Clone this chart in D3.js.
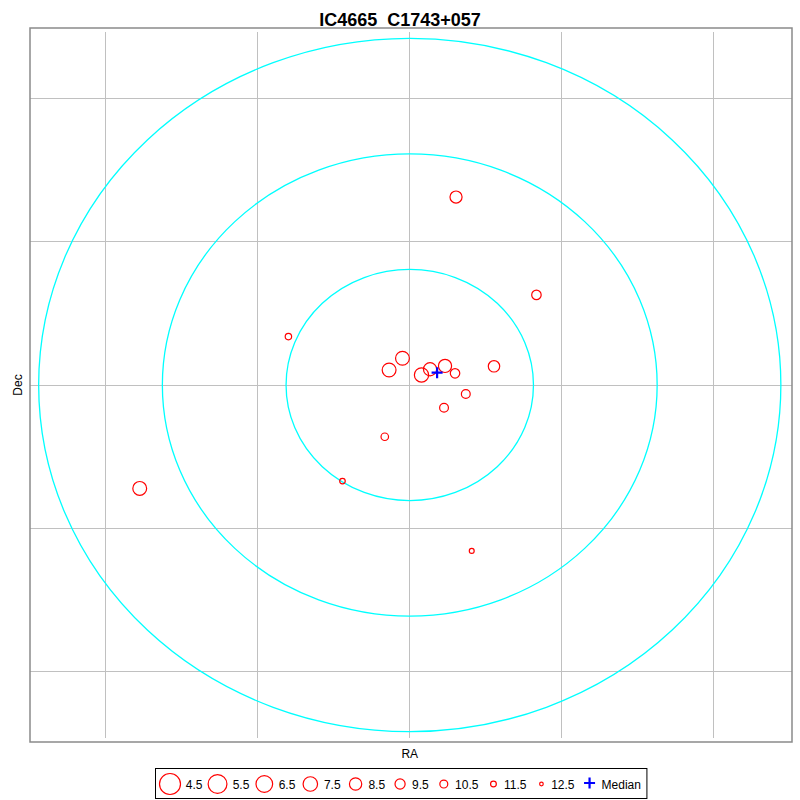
<!DOCTYPE html>
<html>
<head>
<meta charset="utf-8">
<script src="https://cdn.jsdelivr.net/npm/d3@7"></script>
<style>
  body { margin: 0; background: #fff; }
  svg { display: block; font-family: "Liberation Sans", Arial, sans-serif; }
</style>
</head>
<body>
<div id="chart"></div>
<script>
// Cluster members: offsets from centre (degree-ish units) and magnitude
const starX = [0.374, 1.024, -0.981, -0.059, -0.167, 0.095, 0.164, 0.285, 0.366, 0.681, 0.453, 0.277, -0.202, -2.183, -0.544, 0.501];
const starY = [1.627, 0.780, 0.419, 0.231, 0.130, 0.087, 0.136, 0.165, 0.101, 0.162, -0.078, -0.197, -0.448, -0.895, -0.832, -1.436];
const starMag = [8.6, 9.8, 11.2, 7.8, 7.8, 7.6, 8.1, 8.1, 9.8, 8.9, 10.1, 10.1, 10.7, 7.8, 11.6, 11.9];

// Median position
const medianX = 0.221;
const medianY = 0.107;

// Reference rings and grid positions
const rings = [1, 2, 3];
const gridX = [-2.458, -1.229, 0, 1.229, 2.458];
const gridY = [-2.478, -1.239, 0, 1.239, 2.478];

// Legend magnitudes
const legendMags = [4.5, 5.5, 6.5, 7.5, 8.5, 9.5, 10.5, 11.5, 12.5];

const title = "IC4665  C1743+057";

// Dimensions
const width = 800;
const height = 800;
const plot = { left: 30, right: 792, top: 28, bottom: 742 };

const svg = d3
  .select("#chart")
  .append("svg")
  .attr("width", width)
  .attr("height", height);

// Scales
const x = d3.scaleLinear().domain([-3.07, 3.09]).range([plot.left, plot.right]);
const y = d3.scaleLinear().domain([-3.09, 3.09]).range([plot.bottom, plot.top]);
const r = d3.scaleLinear().domain([4.5, 12.5]).range([10.5, 1.8]);

// Grid lines
svg
  .selectAll(".vgrid")
  .data(gridX)
  .enter()
  .append("line")
  .attr("x1", (d) => x(d))
  .attr("x2", (d) => x(d))
  .attr("y1", plot.top + 4)
  .attr("y2", plot.bottom - 4)
  .attr("stroke", "#c0c0c0")
  .attr("shape-rendering", "crispEdges");

svg
  .selectAll(".hgrid")
  .data(gridY)
  .enter()
  .append("line")
  .attr("x1", plot.left)
  .attr("x2", plot.right)
  .attr("y1", (d) => y(d))
  .attr("y2", (d) => y(d))
  .attr("stroke", "#c0c0c0")
  .attr("shape-rendering", "crispEdges");

// Rings
svg
  .selectAll(".ring")
  .data(rings)
  .enter()
  .append("ellipse")
  .attr("cx", x(0))
  .attr("cy", y(0))
  .attr("rx", (d) => x(d) - x(0))
  .attr("ry", (d) => y(0) - y(d))
  .attr("fill", "none")
  .attr("stroke", "#00ffff")
  .attr("stroke-width", 1.3);

// Frame
svg
  .append("rect")
  .attr("x", plot.left)
  .attr("y", plot.top)
  .attr("width", plot.right - plot.left)
  .attr("height", plot.bottom - plot.top)
  .attr("fill", "none")
  .attr("stroke", "#8a8a8a")
  .attr("stroke-width", 1.5);

// Stars
svg
  .selectAll(".star")
  .data(starMag)
  .enter()
  .append("circle")
  .attr("cx", (d, i) => x(starX[i]))
  .attr("cy", (d, i) => y(starY[i]))
  .attr("r", (d) => r(d))
  .attr("fill", "none")
  .attr("stroke", "#ff0000")
  .attr("stroke-width", 1.2);

// Median cross
const plus = (g, cx, cy) => {
  g.append("path")
    .attr("d", `M${cx - 5.5},${cy}H${cx + 5.5}M${cx},${cy - 5.5}V${cy + 5.5}`)
    .attr("stroke", "#0000ff")
    .attr("stroke-width", 2.2)
    .attr("fill", "none");
};
plus(svg, x(medianX), y(medianY));

// Title and axis labels
svg
  .append("text")
  .attr("x", 400)
  .attr("y", 26)
  .attr("text-anchor", "middle")
  .style("font-size", "18px")
  .style("font-weight", "bold")
  .style("white-space", "pre")
  .text(title);

svg
  .append("text")
  .attr("x", x(0))
  .attr("y", 758)
  .attr("text-anchor", "middle")
  .style("font-size", "12px")
  .text("RA");

svg
  .append("text")
  .attr("transform", `translate(22, ${y(0)}) rotate(-90)`)
  .attr("text-anchor", "middle")
  .style("font-size", "12px")
  .text("Dec");

// Legend
const legend = svg.append("g");
const legendY = 784;
let cx = 170;
legendMags.forEach((m) => {
  const rad = r(m);
  legend
    .append("circle")
    .attr("cx", cx)
    .attr("cy", legendY)
    .attr("r", rad)
    .attr("fill", "none")
    .attr("stroke", "#ff0000")
    .attr("stroke-width", 1.2);
  const tx = cx + 0.7 * rad + 8.5;
  const t = legend
    .append("text")
    .attr("x", tx)
    .attr("y", legendY + 5)
    .style("font-size", "12px")
    .text(m.toFixed(1));
  cx = tx + t.node().getComputedTextLength() + 15;
});
plus(legend, cx, legendY - 1);
const med = legend
  .append("text")
  .attr("x", cx + 12)
  .attr("y", legendY + 5)
  .style("font-size", "12px")
  .text("Median");
const legendRight = cx + 12 + med.node().getComputedTextLength() + 6;

legend
  .insert("rect", ":first-child")
  .attr("x", 155.5)
  .attr("y", 768.5)
  .attr("width", legendRight - 155.5)
  .attr("height", 30)
  .attr("fill", "#fff")
  .attr("stroke", "#000")
  .attr("stroke-width", 1);
</script>
</body>
</html>
